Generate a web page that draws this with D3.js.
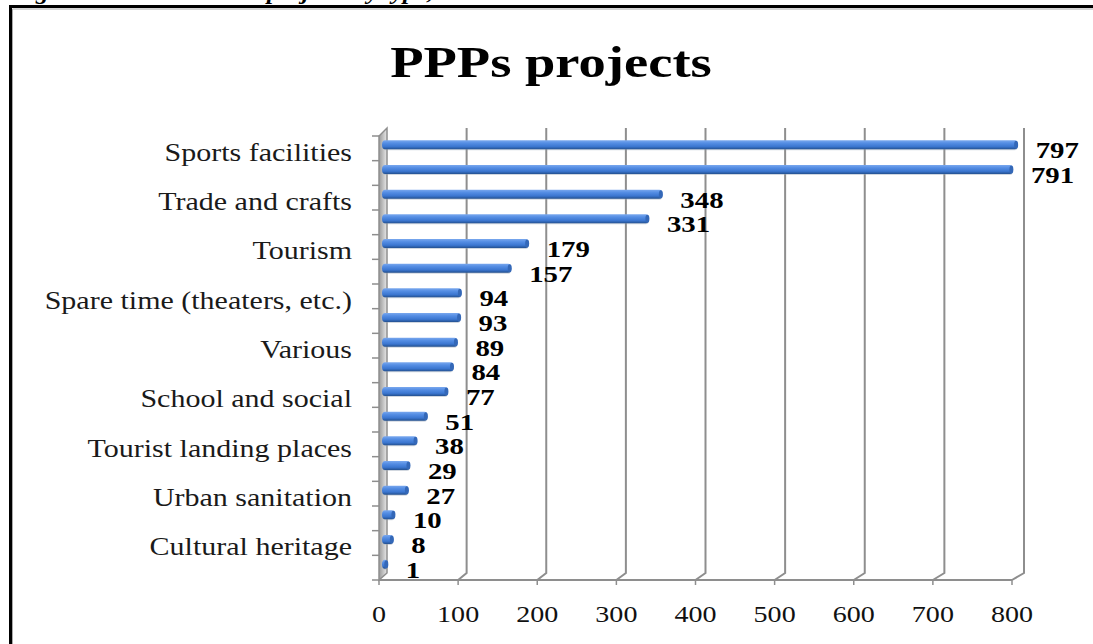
<!DOCTYPE html>
<html>
<head>
<meta charset="utf-8">
<script src="https://cdnjs.cloudflare.com/ajax/libs/d3/7.8.5/d3.min.js"></script>
<style>
  body { margin: 0; background: #fff; }
  svg { display: block; }
</style>
</head>
<body>
<div id="chart"></div>
<script>
// chart data
const chartTitle = "PPPs projects";
const caption = "Figure 3 \u2013 Italian PPPs projects by type, 2002-2012";
// one label is shown for every second bar
const categories = ["Sports facilities", "Trade and crafts", "Tourism",
  "Spare time (theaters, etc.)", "Various", "School and social",
  "Tourist landing places", "Urban sanitation", "Cultural heritage"];
const values = [797, 791, 348, 331, 179, 157, 94, 93, 89, 84, 77, 51, 38, 29, 27, 10, 8, 1];
const xTicks = [0, 100, 200, 300, 400, 500, 600, 700, 800];

const W = 1093, H = 644;
const serif = "'Liberation Serif', 'Times New Roman', serif";
const sx = 1.2; // picture is stretched sideways

const svg = d3.select("#chart").append("svg")
  .attr("width", W).attr("height", H);

const defs = svg.append("defs");
const grad = defs.append("linearGradient")
  .attr("id", "barGrad").attr("x1", 0).attr("y1", 0).attr("x2", 0).attr("y2", 1);
grad.append("stop").attr("offset", "0%").attr("stop-color", "#7aa8ee");
grad.append("stop").attr("offset", "30%").attr("stop-color", "#558ee4");
grad.append("stop").attr("offset", "70%").attr("stop-color", "#3b76d0");
grad.append("stop").attr("offset", "100%").attr("stop-color", "#23508f");

const wallGrad = defs.append("linearGradient")
  .attr("id", "wallGrad").attr("x1", 0).attr("y1", 0).attr("x2", 1).attr("y2", 0);
wallGrad.append("stop").attr("offset", "0%").attr("stop-color", "#9a9a9a");
wallGrad.append("stop").attr("offset", "100%").attr("stop-color", "#e8e8e8");

// caption cut off at the top of the picture (only descenders show)
svg.append("text")
  .attr("transform", "translate(12,-1) scale(1.15,1)")
  .attr("font-family", serif).attr("font-style", "italic").attr("font-weight", "bold")
  .attr("font-size", 22).text(caption);

// frame
svg.append("rect").attr("x", 10.5).attr("y", 6.5).attr("width", W + 20).attr("height", H + 20)
  .attr("fill", "none").attr("stroke", "#000").attr("stroke-width", 3);
svg.append("path").attr("d", `M12.5,${H} V9 H${W}`)
  .attr("fill", "none").attr("stroke", "#aaa").attr("stroke-width", 1);

// title
svg.append("text")
  .attr("transform", "translate(551,77) scale(1.24,1)")
  .attr("text-anchor", "middle")
  .attr("font-family", serif).attr("font-weight", "bold").attr("font-size", 44)
  .text(chartTitle);

// scales
const x = d3.scaleLinear().domain([0, 800]).range([379, 1012]);
const y = d3.scaleBand().domain(d3.range(values.length)).range([136, 580]);
const depthX = v => 8 + v / 200;
const depthY = -7;
const yTop = 128;
const yBase = 580;

// back gridlines with 3D foot
const grid = svg.append("g");
grid.selectAll("path.grid")
  .data(xTicks.slice(1))
  .join("path")
  .attr("class", "grid")
  .attr("d", d => `M${x(d)},${yBase} L${x(d) + depthX(d)},${yBase + depthY} V${yTop}`)
  .attr("fill", "none").attr("stroke", "#8e8e8e").attr("stroke-width", 2);

// left wall
svg.append("path")
  .attr("d", `M${x(0)},${yBase} V${y(0)} L${x(0) + depthX(0)},${yTop} V${yBase + depthY} Z`)
  .attr("fill", "url(#wallGrad)").attr("stroke", "#8e8e8e").attr("stroke-width", 1.5);

// floor edge / x axis
svg.append("line").attr("x1", x(0)).attr("x2", x(800)).attr("y1", yBase).attr("y2", yBase)
  .attr("stroke", "#8e8e8e").attr("stroke-width", 2);
svg.selectAll("line.xtick").data(xTicks).join("line")
  .attr("class", "xtick")
  .attr("x1", d => x(d)).attr("x2", d => x(d)).attr("y1", yBase).attr("y2", yBase + 5)
  .attr("stroke", "#8e8e8e").attr("stroke-width", 1.5);
svg.selectAll("text.xlab").data(xTicks).join("text")
  .attr("class", "xlab")
  .attr("transform", d => `translate(${x(d)},622) scale(1.17,1)`)
  .attr("text-anchor", "middle")
  .attr("font-family", serif).attr("font-size", 24).attr("fill", "#111")
  .text(d => d);

// y axis ticks
const yTickPos = d3.range(values.length + 1).map(i => y.range()[0] + i * y.step());
svg.selectAll("line.ytick").data(yTickPos).join("line")
  .attr("class", "ytick")
  .attr("x1", x(0) - 7).attr("x2", x(0)).attr("y1", d => d).attr("y2", d => d)
  .attr("stroke", "#8e8e8e").attr("stroke-width", 1.5);

// category labels (one per pair of bars)
svg.selectAll("text.cat").data(categories).join("text")
  .attr("class", "cat")
  .attr("transform", (d, i) => `translate(352,${y(i * 2) + y.bandwidth()}) scale(${sx},1)`)
  .attr("text-anchor", "end")
  .attr("font-family", serif).attr("font-size", 25).attr("fill", "#1a1a1a")
  .text(d => d);

// bars as thin cylinders
const barH = 9;
const bars = svg.append("g").selectAll("g.bar").data(values).join("g").attr("class", "bar");
bars.append("rect")
  .attr("x", x(0) + 4)
  .attr("y", (d, i) => y(i) + y.bandwidth() / 2 - 7)
  .attr("width", d => Math.max(3, x(d) + 8 - x(0) - 4))
  .attr("height", barH)
  .attr("rx", 3).attr("ry", 4)
  .attr("fill", "#9aa6b8").attr("opacity", 0.45);
bars.append("rect")
  .attr("x", x(0) + 3)
  .attr("y", (d, i) => y(i) + y.bandwidth() / 2 - 8)
  .attr("width", d => Math.max(3, x(d) + 8 - x(0) - 3))
  .attr("height", barH)
  .attr("rx", 3).attr("ry", 4.5)
  .attr("fill", "url(#barGrad)");
bars.append("ellipse")
  .attr("cx", d => x(d) + 6.5)
  .attr("cy", (d, i) => y(i) + y.bandwidth() / 2 - 8 + barH / 2)
  .attr("rx", 2).attr("ry", 4)
  .attr("fill", "#3468b8");

// value labels
svg.selectAll("text.val").data(values).join("text")
  .attr("class", "val")
  .attr("transform", (d, i) => `translate(${x(d) + 26},${y(i) + y.bandwidth() / 2 + 10}) scale(${sx},1)`)
  .attr("font-family", serif).attr("font-weight", "bold").attr("font-size", 24).attr("fill", "#000")
  .text(d => d);
</script>
</body>
</html>
